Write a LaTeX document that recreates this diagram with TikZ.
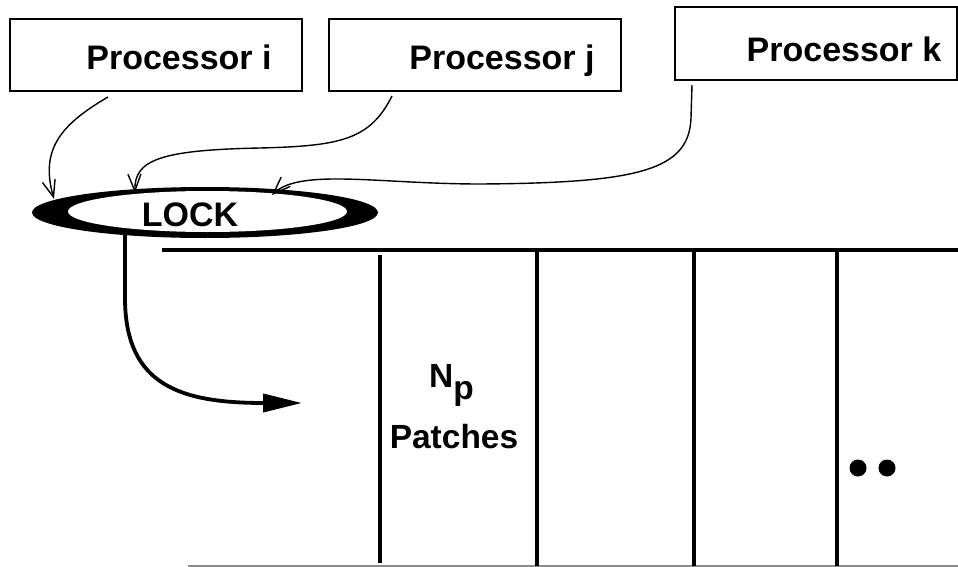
\documentclass[tikz,border=0pt]{standalone}
\usepackage{fontspec}
\setmainfont{Liberation Sans}
\usetikzlibrary{shapes.geometric,arrows.meta}
\begin{document}
\begin{tikzpicture}[x=1pt,y=-1pt,
  pbox/.style={draw,line width=1.8pt,inner sep=0pt},
  ptext/.style={anchor=base,inner sep=0pt,font=\fontsize{34}{38}\selectfont\bfseries},
  ltext/.style={inner sep=0pt,font=\fontsize{33.5}{38}\selectfont\bfseries},
  thin/.style={line width=1.4pt,-{Straight Barb[length=17pt,width=13pt,line width=1.4pt]}},
  thick/.style={line width=3.8pt,-{Triangle[length=39pt,width=18pt]}},
  rule/.style={line width=4pt},
  bottomrule/.style={line width=1.2pt,black!45}]
\useasboundingbox (0,0) rectangle (958,567);
% processor boxes
\node[pbox,minimum width=292pt,minimum height=72pt] (pi) at (156,55) {};
\node[pbox,minimum width=292pt,minimum height=72pt] (pj) at (475,55) {};
\node[pbox,minimum width=282pt,minimum height=73pt] (pk) at (816,43.5) {};
\node[ptext] (ti) at (179,70) {Processor i};
\node[ptext] (tj) at (502,70) {Processor j};
\node[ptext] (tk) at (844,62) {Processor k};
% lock
\node[ellipse,fill=black,minimum width=346pt,minimum height=51pt,inner sep=0pt] (lock) at (205,212.5) {};
\node[ellipse,fill=white,minimum width=279pt,minimum height=41pt,inner sep=0pt] (lockin) at (207.5,211.5) {};
\node[ptext] (lt) at (190,226) {LOCK};
% connector end points
\coordinate (si) at (108,97);
\coordinate (sj) at (392,96);
\coordinate (sk) at (692,85);
\coordinate (ei) at (54,199);
\coordinate (ej) at (135,193);
\coordinate (ek) at (272,195);
\coordinate (ls) at (125,234);
\coordinate (le) at (302,403);
\draw[thin] (si) .. controls (60,125) and (40,150) .. (ei);
\draw[thin] (sj) .. controls (370,140) and (340,146) .. (260,148) .. controls (160,150) and (134,160) .. (ej);
\draw[thin] (sk) -- (691,118) .. controls (689,170) and (640,183) .. (480,184) .. controls (380,184) and (300,168) .. (ek);
\draw[thick] (ls) -- (125,300) .. controls (126,385) and (180,403) .. (le);
% patch table
\draw[rule] (162,250) -- (958,250);
\draw[bottomrule] (188,566) -- (958,566);
\draw[rule] (380,255) -- (380,563);
\draw[rule] (537,250) -- (537,566);
\draw[rule] (694,250) -- (694,566);
\draw[rule] (837,250) -- (837,566);
\node[ltext,anchor=base west] (np) at (429,387) {N\raisebox{-12pt}{p}};
\node[ltext,anchor=base] (pt) at (454,448) {Patches};
\fill (858,468) circle (8.5);
\fill (887,468) circle (8.5);
\end{tikzpicture}
\end{document}
